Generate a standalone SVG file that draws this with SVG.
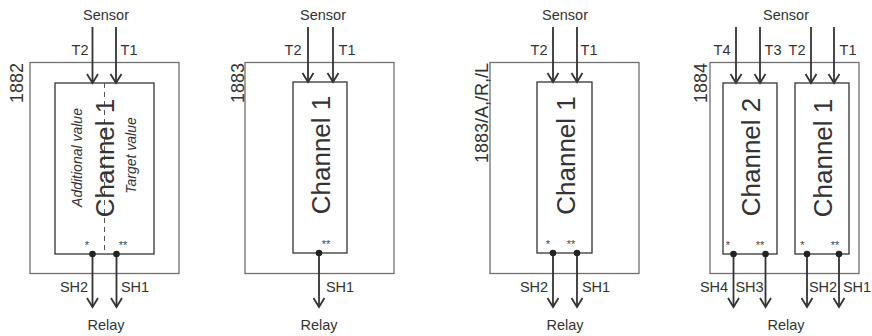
<svg xmlns="http://www.w3.org/2000/svg" width="872" height="336" viewBox="0 0 872 336">
<defs>
<marker id="ah" viewBox="-11 -7 13 14" markerWidth="13" markerHeight="14" refX="0" refY="0" orient="auto" markerUnits="userSpaceOnUse">
<path d="M-9,-5.5 L0,0 L-9,5.5" fill="none" stroke="#333" stroke-width="1.8"/>
</marker>
<style>
.outer{fill:none;stroke:#707070;stroke-width:1.3}
.inner{fill:#fff;stroke:#333;stroke-width:1.3}
.wire{fill:none;stroke:#333;stroke-width:1.8;marker-end:url(#ah)}
.dot{fill:#222}
.lbl{font-family:"Liberation Sans",Arial,sans-serif;font-size:14.5px;fill:#333;text-anchor:middle}
.dev{font-family:"Liberation Sans",Arial,sans-serif;font-size:18px;fill:#333;text-anchor:end}
.ch{font-family:"Liberation Sans",Arial,sans-serif;font-size:26px;fill:#333;text-anchor:middle}
.it{font-family:"Liberation Sans",Arial,sans-serif;font-size:14px;font-style:italic;fill:#333;text-anchor:middle}
.star{font-family:"Liberation Sans",Arial,sans-serif;font-size:11px;fill:#444;text-anchor:middle}
.dash{stroke:#555;stroke-width:1;stroke-dasharray:5 4;fill:none}
</style>
</defs>

<!-- Panel 1882 -->
<g id="dev1882">
<rect class="outer" x="30" y="62.5" width="149" height="211"/>
<text class="dev" transform="translate(23,63) rotate(-90)">1882</text>
</g>
<g id="ch1882">
<rect class="inner" x="55" y="83" width="99" height="171"/>
<line class="dash" x1="104.5" y1="83" x2="104.5" y2="254"/>
<text class="ch" transform="translate(114,158) rotate(-90)">Channel 1</text>
<text class="it" transform="translate(82,157.5) rotate(-90)">Additional value</text>
<text class="it" transform="translate(136,155.5) rotate(-90)">Target value</text>
<text class="star" x="87" y="249">*</text>
<text class="star" x="123" y="249">**</text>
</g>
<g id="lbl1882">
<text class="lbl" x="106" y="20">Sensor</text>
<text class="lbl" x="80" y="55">T2</text>
<text class="lbl" x="129" y="55">T1</text>
<text class="lbl" x="74" y="292">SH2</text>
<text class="lbl" x="135" y="292">SH1</text>
<text class="lbl" x="106" y="330">Relay</text>
</g>

<!-- Panel 1883 -->
<g id="dev1883">
<rect class="outer" x="245" y="62.5" width="149" height="211"/>
<text class="dev" transform="translate(243.5,63) rotate(-90)">1883</text>
</g>
<g id="ch1883">
<rect class="inner" x="293" y="82" width="54" height="171"/>
<text class="ch" transform="translate(330,155) rotate(-90)">Channel 1</text>
<text class="star" x="326" y="248">**</text>
</g>
<g id="lbl1883">
<text class="lbl" x="323" y="20">Sensor</text>
<text class="lbl" x="293" y="55">T2</text>
<text class="lbl" x="347" y="55">T1</text>
<text class="lbl" x="340" y="292">SH1</text>
<text class="lbl" x="319" y="330">Relay</text>
</g>

<!-- Panel 1883/A,/R,/L -->
<g id="dev1883arl">
<rect class="outer" x="490" y="62.5" width="149" height="211"/>
<text class="dev" transform="translate(488,63) rotate(-90)">1883/A,/R,/L</text>
</g>
<g id="ch1883arl">
<rect class="inner" x="537" y="82" width="55" height="171"/>
<text class="ch" transform="translate(574.5,155.5) rotate(-90)">Channel 1</text>
<text class="star" x="548" y="248">*</text>
<text class="star" x="571" y="248">**</text>
</g>
<g id="lbl1883arl">
<text class="lbl" x="565" y="20">Sensor</text>
<text class="lbl" x="539" y="55">T2</text>
<text class="lbl" x="589" y="55">T1</text>
<text class="lbl" x="534" y="292">SH2</text>
<text class="lbl" x="596" y="292">SH1</text>
<text class="lbl" x="565" y="330">Relay</text>
</g>

<!-- Panel 1884 -->
<g id="dev1884">
<rect class="outer" x="710" y="62.5" width="149" height="211"/>
<text class="dev" transform="translate(706.5,63) rotate(-90)">1884</text>
</g>
<g id="ch1884_2">
<rect class="inner" x="723" y="83" width="54" height="171"/>
<text class="ch" transform="translate(759.5,157) rotate(-90)">Channel 2</text>
<text class="star" x="728" y="249">*</text>
<text class="star" x="760" y="249">**</text>
</g>
<g id="ch1884_1">
<rect class="inner" x="795" y="83" width="54" height="171"/>
<text class="ch" transform="translate(831.5,158) rotate(-90)">Channel 1</text>
<text class="star" x="802.5" y="249">*</text>
<text class="star" x="835" y="249">**</text>
</g>
<g id="lbl1884">
<text class="lbl" x="786" y="20">Sensor</text>
<text class="lbl" x="722" y="55">T4</text>
<text class="lbl" x="773" y="55">T3</text>
<text class="lbl" x="797" y="55">T2</text>
<text class="lbl" x="848" y="55">T1</text>
<text class="lbl" x="714" y="292">SH4</text>
<text class="lbl" x="749.5" y="292">SH3</text>
<text class="lbl" x="823" y="292">SH2</text>
<text class="lbl" x="857" y="292">SH1</text>
<text class="lbl" x="786" y="330">Relay</text>
</g>

<!-- Connectors -->
<g id="connectors">
<line class="wire" x1="92.5" y1="27" x2="92.5" y2="83"/>
<line class="wire" x1="116" y1="27" x2="116" y2="83"/>
<line class="wire" x1="92.5" y1="254" x2="92.5" y2="307"/>
<line class="wire" x1="116.5" y1="254" x2="116.5" y2="307"/>
<circle class="dot" cx="92.5" cy="254" r="3.3"/>
<circle class="dot" cx="116.5" cy="254" r="3.3"/>

<line class="wire" x1="308" y1="27" x2="308" y2="82"/>
<line class="wire" x1="333" y1="27" x2="333" y2="82"/>
<line class="wire" x1="319" y1="253" x2="319" y2="307"/>
<circle class="dot" cx="319" cy="253" r="3.3"/>

<line class="wire" x1="553" y1="27" x2="553" y2="82"/>
<line class="wire" x1="577" y1="27" x2="577" y2="82"/>
<line class="wire" x1="553" y1="253" x2="553" y2="307"/>
<line class="wire" x1="577" y1="253" x2="577" y2="307"/>
<circle class="dot" cx="553" cy="253" r="3.3"/>
<circle class="dot" cx="577" cy="253" r="3.3"/>

<line class="wire" x1="736" y1="27" x2="736" y2="83"/>
<line class="wire" x1="760" y1="27" x2="760" y2="83"/>
<line class="wire" x1="811" y1="27" x2="811" y2="83"/>
<line class="wire" x1="834" y1="27" x2="834" y2="83"/>
<line class="wire" x1="733.5" y1="254" x2="733.5" y2="307"/>
<line class="wire" x1="765.5" y1="254" x2="765.5" y2="307"/>
<line class="wire" x1="807" y1="254" x2="807" y2="307"/>
<line class="wire" x1="839" y1="254" x2="839" y2="307"/>
<circle class="dot" cx="733.5" cy="254" r="3.3"/>
<circle class="dot" cx="765.5" cy="254" r="3.3"/>
<circle class="dot" cx="807" cy="254" r="3.3"/>
<circle class="dot" cx="839" cy="254" r="3.3"/>
</g>
</svg>
